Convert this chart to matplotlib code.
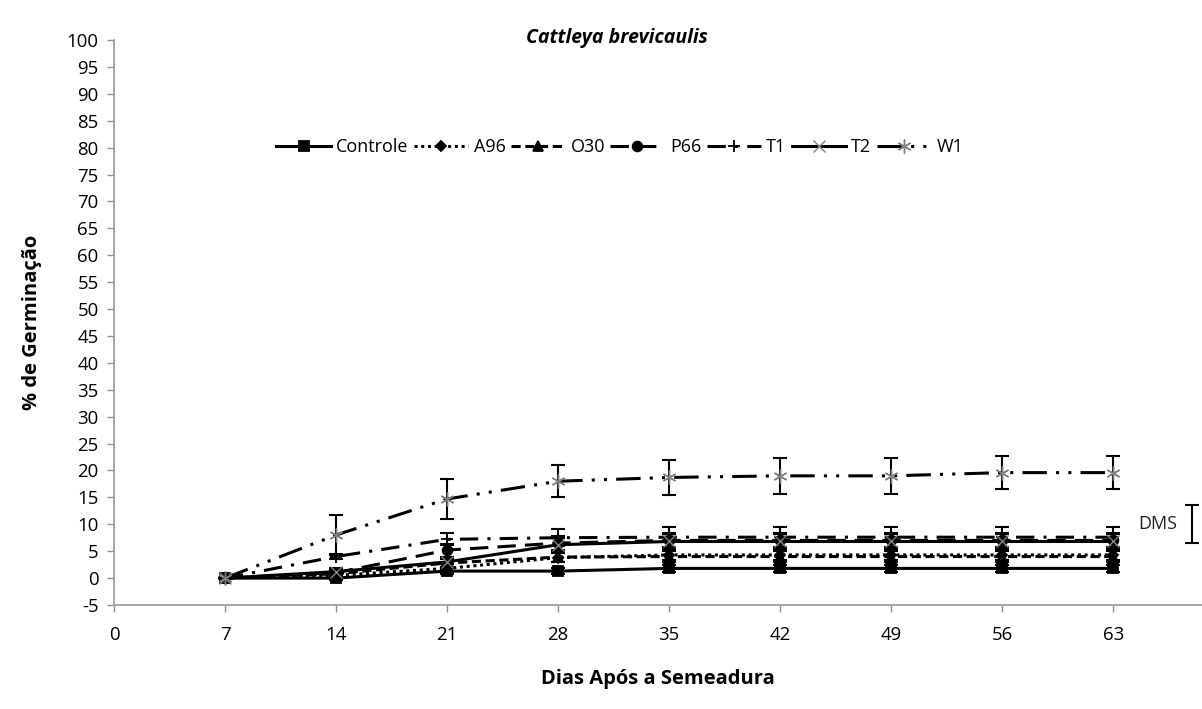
import matplotlib
matplotlib.use("Agg")
import matplotlib.pyplot as plt

plt.rcParams['font.family'] = ['Open Sans', 'DejaVu Sans']
plt.rcParams['axes.unicode_minus'] = False

dias = [7, 14, 21, 28, 35, 42, 49, 56, 63]

controle = [0, 0, 1.3, 1.3, 1.8, 1.8, 1.8, 1.8, 1.8]
a96 = [0, 0.5, 1.8, 3.8, 4.3, 4.3, 4.3, 4.3, 4.3]
o30 = [0, 0.8, 2.8, 3.9, 4.0, 4.0, 4.0, 4.0, 4.0]
p66 = [0, 1.0, 5.2, 6.5, 7.0, 7.0, 7.0, 7.0, 7.0]
t1 = [0, 4.0, 7.2, 7.5, 7.6, 7.6, 7.6, 7.6, 7.6]
t2 = [0, 1.2, 3.0, 6.2, 6.8, 6.8, 6.8, 6.8, 6.8]
w1 = [0, 8.0, 14.7, 18.0, 18.7, 19.0, 19.0, 19.6, 19.6]

# barras de erro
err_controle = [0, 0.4, 0.6, 0.6, 0.6, 0.6, 0.6, 0.6, 0.6]
err_a96 = [0, 0.5, 0.8, 0.9, 1.0, 1.0, 1.0, 1.0, 1.0]
err_o30 = [0, 0.5, 0.8, 0.9, 1.0, 1.0, 1.0, 1.0, 1.0]
err_p66 = [0, 0.6, 1.2, 1.3, 1.4, 1.4, 1.4, 1.4, 1.4]
err_t1 = [0, 0.5, 1.1, 1.6, 1.9, 1.9, 1.9, 1.9, 1.9]
err_t2 = [0, 0.6, 1.0, 1.2, 1.3, 1.3, 1.3, 1.3, 1.3]
err_w1 = [0, 3.8, 3.7, 3.0, 3.2, 3.4, 3.4, 3.1, 3.1]

dms_lo, dms_hi = 6.5, 13.6

series = [
    ("Controle", controle, err_controle, '-', 's', 'black', 7, 1.3),
    ("A96", a96, err_a96, (0, (1, 1.2)), 'D', 'black', 5, 1.3),
    ("O30", o30, err_o30, (0, (3, 1.5)), '^', 'black', 7, 1.3),
    ("P66", p66, err_p66, (0, (6, 3)), 'o', 'black', 7, 1.3),
    ("T1", t1, err_t1, (0, (6, 3, 1, 3)), '+', 'black', 9, 1.3),
    ("T2", t2, err_t2, '-', 'x', 'gray', 8, 1.0),
    ("W1", w1, err_w1, (0, (8, 3, 1, 3, 1, 3)), (6, 2, 0), 'gray', 10, 1.0),
]

fig = plt.figure(figsize=(12.02, 7.09), dpi=100)
ax = fig.add_axes([0.0948, 0.1467, 0.9052, 0.7969])

for name, vals, err, ls, mk, mcol, ms, mew in series:
    ax.errorbar(dias, vals, yerr=err, color='black', ecolor='black',
                elinewidth=1.5, capsize=5, capthick=1.5, linestyle='none',
                zorder=2)
    ax.plot(dias, vals, linestyle=ls, color='black', linewidth=2.2,
            marker=mk, markersize=ms, markerfacecolor=mcol,
            markeredgecolor=mcol, markeredgewidth=mew, label=name, zorder=3)

# DMS
ax.errorbar([68.0], [(dms_lo + dms_hi) / 2], yerr=[(dms_hi - dms_lo) / 2],
            color='black', elinewidth=1.5, capsize=5, capthick=1.5,
            clip_on=False)
ax.text(65.8, (dms_lo + dms_hi) / 2, "DMS", fontsize=13, ha='center',
        va='center', color='#222222')

ax.set_xlim(0, 68.6)
ax.set_ylim(-5, 100)
ax.set_xticks([0] + dias)
ax.set_yticks(range(-5, 101, 5))
ax.tick_params(axis='both', colors='#909090', labelcolor='black',
               labelsize=13.4, length=5, width=1, direction='out')
ax.tick_params(axis='x', pad=10)
ax.tick_params(axis='y', pad=6)
for s in ['top', 'right']:
    ax.spines[s].set_visible(False)
for s in ['left', 'bottom']:
    ax.spines[s].set_color('#a0a0a0')
    ax.spines[s].set_linewidth(1.3)

ax.set_xlabel("Dias Após a Semeadura", fontsize=14.5, fontweight='bold',
              labelpad=18)
ax.set_ylabel("% de Germinação", fontsize=14.5, fontweight='bold', labelpad=18)
fig.text(617 / 1202, 1 - 38 / 709, "Cattleya brevicaulis", fontsize=14,
         fontweight='bold', style='italic', ha='center', va='center')

ax.legend(loc='center', bbox_to_anchor=(0.465, 0.81), ncol=7,
          frameon=False, fontsize=13, handlelength=3.0, columnspacing=0.3,
          handletextpad=0.3)

fig.savefig("out.png", dpi=100, facecolor='white')
